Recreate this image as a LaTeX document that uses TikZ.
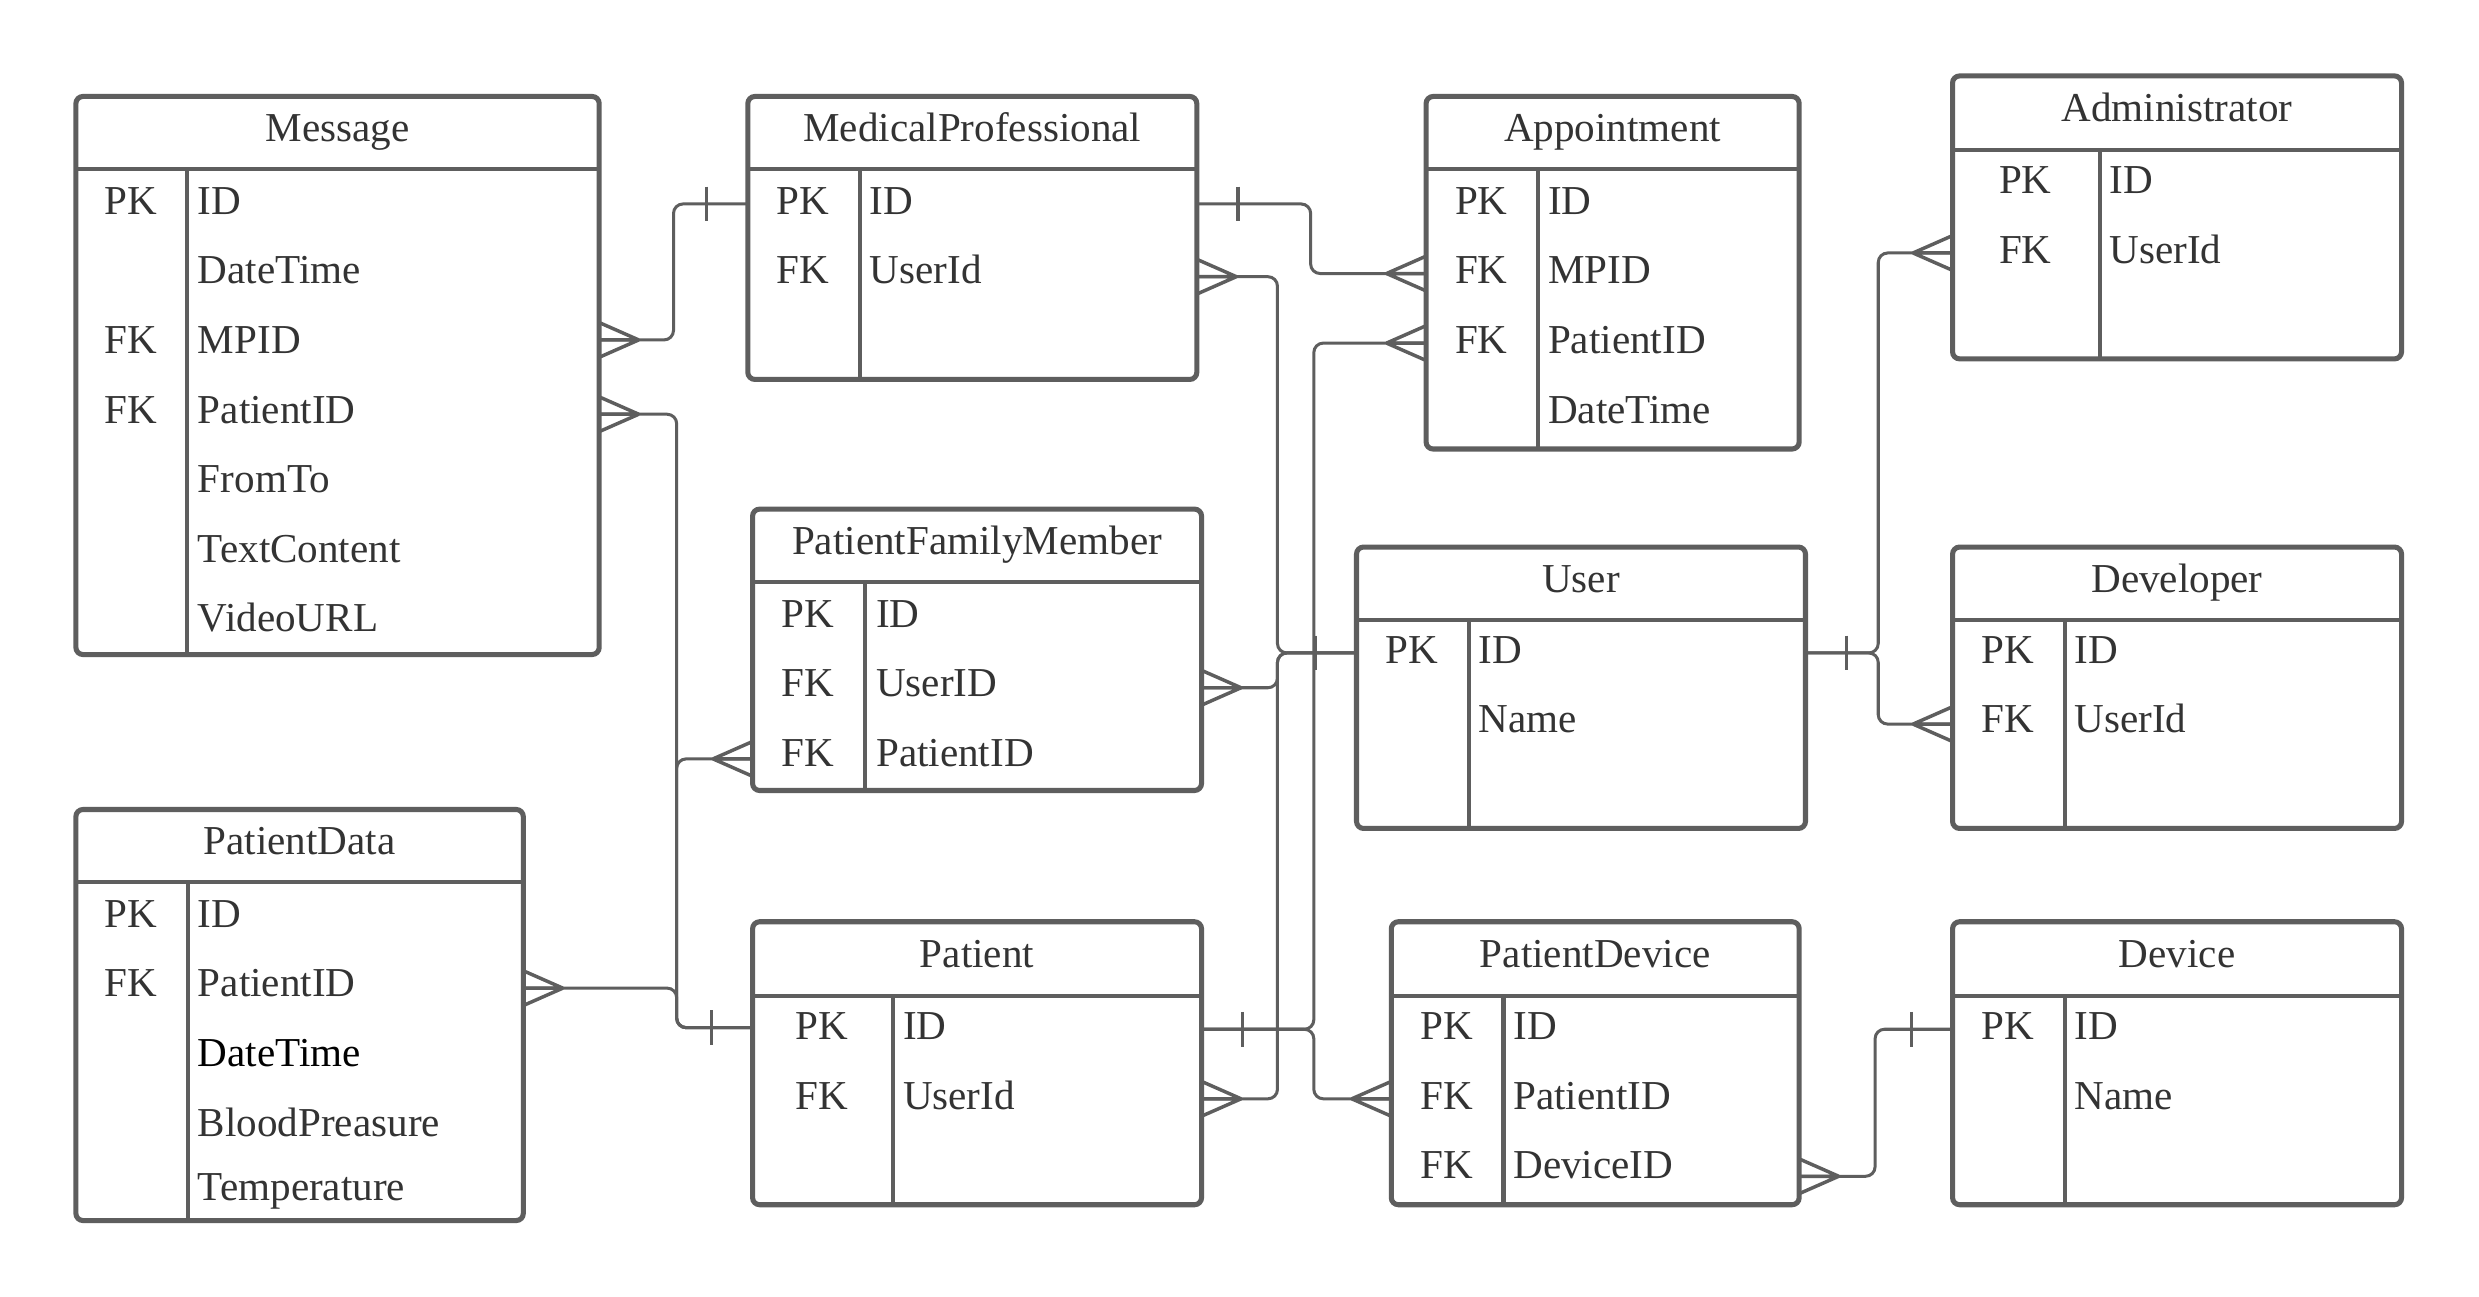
\documentclass[tikz,border=0pt]{standalone}
\usepackage{fontspec}
\setmainfont{Liberation Serif}
\usetikzlibrary{calc}
\definecolor{erline}{HTML}{5E5E5E}
\definecolor{ertext}{HTML}{333333}

\tikzset{
  tbl/.style={draw=erline, line width=3.2pt, rounded corners=4.5pt, fill=white,
              inner sep=0pt, outer sep=0pt, anchor=north west},
  tblline/.style={draw=erline, line width=2.6pt},
  conn/.style={draw=erline, line width=1.9pt, rounded corners=6pt},
  endmark/.style={draw=erline, line width=2.2pt},
  erfont/.style={font=\fontsize{26}{31}\selectfont, text=ertext, inner sep=0pt},
  tname/.style={erfont, anchor=base, yshift=-5.6pt},
  keytxt/.style={erfont, anchor=base, yshift=-8.6pt},
  fldtxt/.style={erfont, anchor=base west, yshift=-8.6pt},
  % crow's foot (many) and bar (one); R = connector leaves to the right
  pics/crowR/.style={code={\draw[endmark] (25,0) -- (0,11) (25,0) -- (0,-11) (25,0) -- (0,0);}},
  pics/crowL/.style={code={\draw[endmark] (-25,0) -- (0,11) (-25,0) -- (0,-11) (-25,0) -- (0,0);}},
  pics/barR/.style={code={\draw[endmark] (26,-11) -- (26,11);}},
  pics/barL/.style={code={\draw[endmark] (-26,-11) -- (-26,11);}},
}

% #1 name, #2 x1, #3 y1, #4 x2, #5 y2, #6 header line y, #7 divider x, #8 title
\newcommand\ertable[8]{%
  \node[tbl, minimum width={(#4-#2)*1pt}, minimum height={(#5-#3)*1pt}] (#1) at (#2,#3) {};
  \draw[tblline] (#1.west |- 0,#6) -- (#1.east |- 0,#6);
  \draw[tblline] (#7,#6) -- (#1.south -| #7,0);
  \node[tname] (#1-title) at ($(#1.north)!0.5!(#1.north |- 0,#6)$) {#8};
}
% #1 key column centre x, #2 field x, #3 row y, #4 key, #5 field
\newcommand\errow[5]{%
  \node[keytxt] at (#1,#3) {#4};
  \node[fldtxt] at (#2,#3) {#5};
}

\begin{document}
\begin{tikzpicture}[x=1pt, y=-1pt]
\useasboundingbox[fill=white] (0,0) rectangle (1568,820);

% ---------- entities ----------
\ertable{msg}{48}{61}{379}{414}{107}{118}{Message}
\errow{83}{125}{127}{PK}{ID}
\errow{83}{125}{171}{}{DateTime}
\errow{83}{125}{215}{FK}{MPID}
\errow{83}{125}{259}{FK}{PatientID}
\errow{83}{125}{303}{}{FromTo}
\errow{83}{125}{347}{}{TextContent}
\errow{83}{125}{391}{}{VideoURL}

\ertable{mp}{473}{61}{757}{240}{107}{544}{MedicalProfessional}
\errow{508}{550}{127}{PK}{ID}
\errow{508}{550}{171}{FK}{UserId}

\ertable{appt}{902}{61}{1138}{284}{107}{973}{Appointment}
\errow{937}{979}{127}{PK}{ID}
\errow{937}{979}{171}{FK}{MPID}
\errow{937}{979}{215}{FK}{PatientID}
\errow{937}{979}{259}{}{DateTime}

\ertable{admin}{1235}{48}{1519}{227}{95}{1328}{Administrator}
\errow{1281}{1334}{114}{PK}{ID}
\errow{1281}{1334}{158}{FK}{UserId}

\ertable{pfm}{476}{322}{760}{500}{368}{547}{PatientFamilyMember}
\errow{511}{554}{388}{PK}{ID}
\errow{511}{554}{432}{FK}{UserID}
\errow{511}{554}{476}{FK}{PatientID}

\ertable{user}{858}{346}{1142}{524}{392}{929}{User}
\errow{893}{935}{411}{PK}{ID}
\errow{893}{935}{455}{}{Name}

\ertable{dev}{1235}{346}{1519}{524}{392}{1306}{Developer}
\errow{1270}{1312}{411}{PK}{ID}
\errow{1270}{1312}{455}{FK}{UserId}

\ertable{pdata}{48}{512}{331}{772}{558}{119}{PatientData}
\errow{83}{125}{578}{PK}{ID}
\errow{83}{125}{622}{FK}{PatientID}
\node[fldtxt, text=black] at (125,666) {DateTime};
\errow{83}{125}{710}{}{BloodPreasure}
\errow{83}{125}{751}{}{Temperature}

\ertable{pat}{476}{583}{760}{762}{630}{565}{Patient}
\errow{520}{571}{649}{PK}{ID}
\errow{520}{571}{693}{FK}{UserId}

\ertable{pdev}{880}{583}{1138}{762}{630}{951}{PatientDevice}
\errow{915}{957}{649}{PK}{ID}
\errow{915}{957}{693}{FK}{PatientID}
\errow{915}{957}{737}{FK}{DeviceID}

\ertable{device}{1235}{583}{1519}{762}{630}{1306}{Device}
\errow{1270}{1312}{649}{PK}{ID}
\errow{1270}{1312}{693}{}{Name}

% ---------- relationships ----------
% Message -> MedicalProfessional
\draw[conn] (msg.east |- 0,215) -- ++(47,0) |- (mp.west |- 0,129);
\pic at (msg.east |- 0,215) {crowR};
\pic at (mp.west |- 0,129) {barL};

% Message, PatientFamilyMember, PatientData -> Patient
\draw[conn] (msg.east |- 0,262) -- ++(49,0) |- (pat.west |- 0,650);
\pic at (msg.east |- 0,262) {crowR};
\draw[conn] (pfm.west |- 0,480) -- ++(-48,0) |- (pat.west |- 0,650);
\pic at (pfm.west |- 0,480) {crowL};
\draw[conn] (pdata.east |- 0,625) -- ++(97,0) |- (pat.west |- 0,650);
\pic at (pdata.east |- 0,625) {crowR};
\pic at (pat.west |- 0,650) {barL};

% MedicalProfessional -> Appointment
\draw[conn] (mp.east |- 0,129) -- ++(72,0) |- (appt.west |- 0,173);
\pic at (mp.east |- 0,129) {barR};
\pic at (appt.west |- 0,173) {crowL};

% MedicalProfessional, PatientFamilyMember, Patient -> User
\draw[conn] (mp.east |- 0,175) -- ++(51,0) |- (user.west |- 0,413);
\pic at (mp.east |- 0,175) {crowR};
\draw[conn] (pfm.east |- 0,435) -- ++(48,0) |- (user.west |- 0,413);
\pic at (pfm.east |- 0,435) {crowR};
\draw[conn] (pat.east |- 0,695) -- ++(48,0) |- (user.west |- 0,413);
\pic at (pat.east |- 0,695) {crowR};
\pic at (user.west |- 0,413) {barL};

% Patient -> Appointment, PatientDevice
\draw[conn] (pat.east |- 0,651) -- ++(71,0) |- (appt.west |- 0,217);
\pic at (appt.west |- 0,217) {crowL};
\draw[conn] (pat.east |- 0,651) -- ++(71,0) |- (pdev.west |- 0,695);
\pic at (pdev.west |- 0,695) {crowL};
\pic at (pat.east |- 0,651) {barR};

% User -> Administrator, Developer
\draw[conn] (user.east |- 0,413) -- ++(46,0) |- (admin.west |- 0,160);
\pic at (admin.west |- 0,160) {crowL};
\draw[conn] (user.east |- 0,413) -- ++(46,0) |- (dev.west |- 0,458);
\pic at (dev.west |- 0,458) {crowL};
\pic at (user.east |- 0,413) {barR};

% PatientDevice -> Device
\draw[conn] (pdev.east |- 0,744) -- ++(48,0) |- (device.west |- 0,651);
\pic at (pdev.east |- 0,744) {crowR};
\pic at (device.west |- 0,651) {barL};
\end{tikzpicture}
\end{document}
